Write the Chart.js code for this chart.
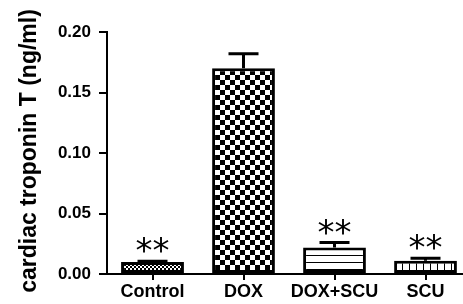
<!DOCTYPE html>
<html>
<head>
<meta charset="utf-8">
<script src="https://cdn.jsdelivr.net/npm/chart.js@4.4.1/dist/chart.umd.min.js"></script>
<style>
  html, body { margin: 0; padding: 0; background: #fff; }
  #wrap { width: 463px; height: 304px; }
</style>
</head>
<body>
<div id="wrap"><canvas id="chart"></canvas></div>
<script>
// 数据
const groups = ['Control', 'DOX', 'DOX+SCU', 'SCU']
const troponin = [0.010, 0.170, 0.022, 0.011]
const troponinSem = [0.0005, 0.012, 0.004, 0.002]
const marks = ['**', '', '**', '**']
const yTicks = [0.00, 0.05, 0.10, 0.15, 0.20]
const yTitle = 'cardiac troponin T (ng/ml)'

const FONT = '"Liberation Sans", Arial, sans-serif'

const canvas = document.getElementById('chart')
const ctx = canvas.getContext('2d')

/**
 * 生成填充图案
 */
function makePattern(size, draw) {
  const c = document.createElement('canvas')
  c.width = c.height = size
  const g = c.getContext('2d')
  g.fillStyle = '#fff'
  g.fillRect(0, 0, size, size)
  g.fillStyle = '#000'
  draw(g, size)
  return ctx.createPattern(c, 'repeat')
}

const checker = cell => makePattern(cell * 2, (g) => {
  g.fillRect(0, 0, cell, cell)
  g.fillRect(cell, cell, cell, cell)
})

const patterns = [
  checker(2),
  checker(5),
  makePattern(7, (g, s) => { g.fillRect(0, 3, s, 1) }),
  makePattern(7, (g, s) => { g.fillRect(3, 0, 1, s) })
]

// 误差线 + 显著性标记
const errorBars = {
  id: 'errorBars',
  afterDatasetsDraw(chart) {
    const meta = chart.getDatasetMeta(0)
    const y = chart.scales.y
    const c = chart.ctx
    c.save()
    c.strokeStyle = '#000'
    c.lineWidth = 3
    meta.data.forEach((bar, i) => {
      const top = y.getPixelForValue(troponin[i] + troponinSem[i])
      const base = y.getPixelForValue(troponin[i])
      c.beginPath()
      c.moveTo(bar.x, base)
      c.lineTo(bar.x, top)
      c.moveTo(bar.x - 15, top)
      c.lineTo(bar.x + 15, top)
      c.stroke()
      if (marks[i]) {
        c.fillStyle = '#000'
        c.font = '34px "DejaVu Sans", sans-serif'
        c.textAlign = 'center'
        c.textBaseline = 'alphabetic'
        c.fillText(marks[i], bar.x, top + 1)
      }
    })
    // y 轴标题
    c.translate(36, 151)
    c.rotate(-Math.PI / 2)
    c.fillStyle = '#000'
    c.font = 'bold 23px ' + FONT
    c.textAlign = 'center'
    c.textBaseline = 'alphabetic'
    c.fillText(yTitle, 0, 0)
    c.restore()
  }
}

new Chart(ctx, {
  type: 'bar',
  data: {
    datasets: [{
      data: troponin.map((v, i) => ({ x: i, y: v })),
      backgroundColor: patterns,
      borderColor: '#000',
      borderWidth: 3,
      borderSkipped: false,
      categoryPercentage: 1,
      barPercentage: 0.69
    }]
  },
  options: {
    responsive: true,
    maintainAspectRatio: false,
    animation: false,
    layout: { padding: { top: 32, right: 0, bottom: 0, left: 0 } },
    plugins: {
      legend: { display: false },
      tooltip: { enabled: false }
    },
    scales: {
      x: {
        type: 'linear',
        offset: false,
        min: -0.5,
        max: 3.412,
        afterBuildTicks: s => { s.ticks = groups.map((g, i) => ({ value: i })) },
        afterFit: s => { s.height = 30 },
        grid: { offset: false, drawOnChartArea: false, color: '#000', lineWidth: 2, tickLength: 6 },
        border: { color: '#000', width: 2 },
        ticks: {
          color: '#000',
          padding: 1,
          autoSkip: false,
          maxRotation: 0,
          font: { family: FONT, size: 18, weight: 'bold' },
          callback: v => groups[v]
        }
      },
      y: {
        min: 0,
        max: 0.2,
        afterBuildTicks: s => { s.ticks = yTicks.map(v => ({ value: v })) },
        afterFit: s => { s.width = 107 },
        grid: { drawOnChartArea: false, color: '#000', lineWidth: 2, tickLength: 8 },
        border: { color: '#000', width: 2 },
        ticks: {
          color: '#000',
          padding: 8,
          font: { family: FONT, size: 17, weight: 'bold' },
          callback: v => v.toFixed(2)
        }
      }
    }
  },
  plugins: [errorBars]
})
</script>
</body>
</html>
